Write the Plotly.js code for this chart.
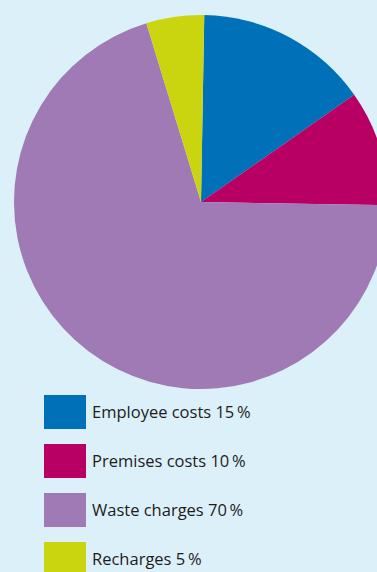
<!DOCTYPE html>
<html>
<head>
<meta charset="utf-8">
<script src="https://cdn.plot.ly/plotly-3.0.1.min.js"></script>
<style>
html, body { margin: 0; padding: 0; overflow: hidden; background: #dcf0f9; }
#chart { width: 400px; height: 572px; }
</style>
</head>
<body>
<div id="chart"></div>
<script>
const categories = ["Employee costs", "Premises costs", "Waste charges", "Recharges"];
const values = [15, 10, 70, 5];
const colors = ["#0070b8", "#b80064", "#a07ab4", "#cad510"];

const W = 400, H = 572;
const bg = "#dcf0f9";

const shapes = [];
const annotations = [];
const rowTop = 395, rowStep = 49, boxW = 42, boxH = 34, boxX = 44, textX = 90;
categories.forEach((c, i) => {
  const top = rowTop + i * rowStep;
  shapes.push({
    type: "rect", xref: "paper", yref: "paper",
    x0: boxX / W, x1: (boxX + boxW) / W,
    y0: 1 - (top + boxH) / H, y1: 1 - top / H,
    fillcolor: colors[i], line: { width: 0 }
  });
  annotations.push({
    xref: "paper", yref: "paper",
    x: textX / W, y: 1 - (top + boxH / 2 - 1) / H,
    xanchor: "left", yanchor: "middle",
    text: c + " " + values[i] + "\u2009%",
    showarrow: false,
    font: { family: "Open Sans", size: 16.5, color: "#1d1d1b" }
  });
});

const data = [{
  type: "pie",
  labels: categories,
  values: values,
  sort: false,
  direction: "clockwise",
  rotation: 1,
  marker: { colors: colors, line: { width: 0 } },
  textinfo: "none",
  hoverinfo: "none",
  showlegend: false,
  domain: { x: [14 / W, 388 / W], y: [1 - 389 / H, 1 - 15 / H] }
}];

const layout = {
  width: W, height: H,
  margin: { l: 0, r: 0, t: 0, b: 0 },
  paper_bgcolor: bg,
  plot_bgcolor: bg,
  shapes: shapes,
  annotations: annotations,
  showlegend: false
};

Plotly.newPlot("chart", data, layout, { displayModeBar: false, staticPlot: true });
</script>
</body>
</html>
